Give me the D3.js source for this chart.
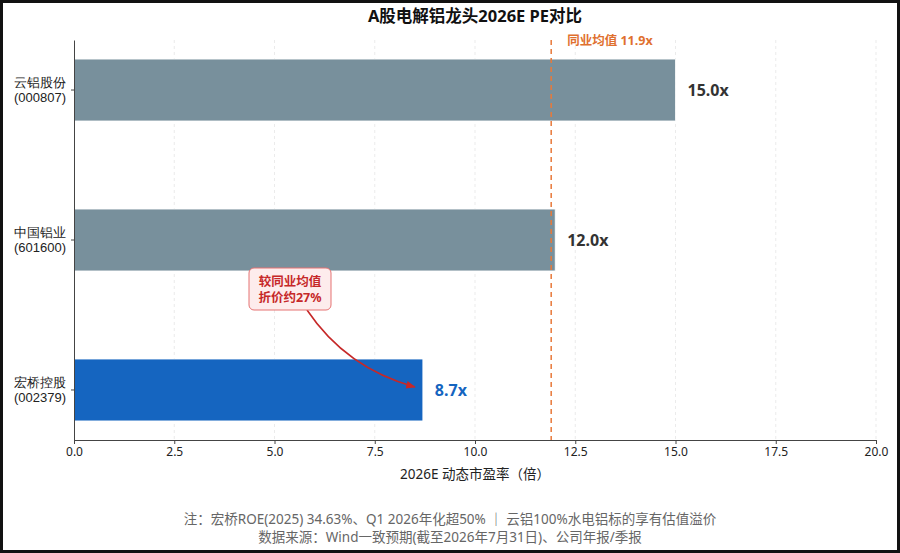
<!DOCTYPE html>
<html>
<head>
<meta charset="utf-8">
<script src="https://cdn.jsdelivr.net/npm/d3@7"></script>
<style>
  body { margin: 0; background: #fff; }
  svg { display: block; font-family: "Noto Sans", "Noto Sans CJK SC", sans-serif; }
</style>
</head>
<body>
<div id="chart"><svg></svg></div>
<script>
// data
var companies = ["云铝股份", "中国铝业", "宏桥控股"];
var codes = ["(000807)", "(601600)", "(002379)"];
var peValues = [15.0, 12.0, 8.7];
var barColors = ["#78909c", "#78909c", "#1565c0"];
var labelColors = ["#333333", "#333333", "#1565c0"];
var peerAvg = 11.9;
var xTicks = [0, 2.5, 5, 7.5, 10, 12.5, 15, 17.5, 20];

var width = 900, height = 553;
var margins = { left: 74, top: 40, right: 24, bottom: 113 };
var plotW = width - margins.left - margins.right;
var plotH = height - margins.top - margins.bottom;

var svg = d3.select("#chart").select("svg")
    .attr("width", width)
    .attr("height", height);

// frame round the picture
svg.append("rect")
    .attr("x", 1.5).attr("y", 1.5)
    .attr("width", width - 3).attr("height", height - 3)
    .attr("fill", "#fff")
    .attr("stroke", "#111")
    .attr("stroke-width", 3);

var xscale = d3.scaleLinear().domain([0, 20]).range([0, plotW]);
var yscale = d3.scaleBand().domain(companies).range([0, plotH])
    .paddingInner(0.587).paddingOuter(0.127);

var g = svg.append("g")
    .attr("transform", "translate(" + margins.left + "," + margins.top + ")");

// grid
g.append("g").selectAll("line")
    .data(xTicks.slice(1))
    .enter().append("line")
    .attr("x1", function(d) { return xscale(d); })
    .attr("x2", function(d) { return xscale(d); })
    .attr("y1", 0).attr("y2", plotH)
    .attr("stroke", "#e6e6e6")
    .attr("stroke-width", 0.8)
    .attr("stroke-dasharray", "3,3");

// bars
g.selectAll("rect.bar")
    .data(peValues)
    .enter().append("rect")
    .attr("class", "bar")
    .attr("x", 0)
    .attr("y", function(d, i) { return yscale(companies[i]); })
    .attr("width", function(d) { return xscale(d); })
    .attr("height", yscale.bandwidth())
    .attr("fill", function(d, i) { return barColors[i]; })
    .attr("stroke", "#ffffff")
    .attr("stroke-width", 0.8);

// value labels
g.selectAll("text.val")
    .data(peValues)
    .enter().append("text")
    .attr("class", "val")
    .attr("x", function(d) { return xscale(d) + 12; })
    .attr("y", function(d, i) { return yscale(companies[i]) + yscale.bandwidth() / 2; })
    .attr("dy", "0.35em")
    .attr("font-size", 16)
    .attr("font-weight", "bold")
    .attr("fill", function(d, i) { return labelColors[i]; })
    .text(function(d) { return d.toFixed(1) + "x"; });

// peer average line
g.append("line")
    .attr("x1", xscale(peerAvg)).attr("x2", xscale(peerAvg))
    .attr("y1", 0).attr("y2", plotH)
    .attr("stroke", "#e8793a")
    .attr("stroke-width", 1.5)
    .attr("stroke-dasharray", "5,4");
g.append("text")
    .attr("x", xscale(peerAvg) + 16)
    .attr("y", 5)
    .attr("font-size", 12.5)
    .attr("font-weight", "bold")
    .attr("fill", "#e0702e")
    .text("同业均值 " + peerAvg.toFixed(1) + "x");

// axes
var xaxis = d3.axisBottom(xscale).tickValues(xTicks)
    .tickFormat(d3.format(".1f")).tickSize(4).tickSizeOuter(0);
var xg = g.append("g")
    .attr("transform", "translate(0," + plotH + ")")
    .call(xaxis);
xg.select(".domain").attr("stroke", "#444");
xg.selectAll(".tick line").attr("stroke", "#444");
xg.selectAll(".tick text")
    .attr("font-size", 12)
    .attr("fill", "#222")
    .attr("font-family", "'Noto Sans', sans-serif");

var yaxis = d3.axisLeft(yscale).tickSize(3).tickSizeOuter(0).tickFormat("");
var yg = g.append("g").call(yaxis);
yg.select(".domain").attr("stroke", "#444");
yg.selectAll(".tick line").attr("stroke", "#444");
yg.selectAll(".tick").each(function(d, i) {
    var t = d3.select(this).append("text")
        .attr("x", -8)
        .attr("text-anchor", "end")
        .attr("font-size", 13)
        .attr("fill", "#222");
    t.append("tspan").attr("x", -8).attr("dy", "-0.25em").text(companies[i]);
    t.append("tspan").attr("x", -8).attr("dy", "1.2em").text(codes[i]);
});

// axis title
g.append("text")
    .attr("x", plotW / 2)
    .attr("y", plotH + 39)
    .attr("text-anchor", "middle")
    .attr("font-size", 13.5)
    .attr("fill", "#222")
    .text("2026E 动态市盈率（倍）");

// chart title
svg.append("text")
    .attr("x", margins.left + plotW / 2)
    .attr("y", 22)
    .attr("text-anchor", "middle")
    .attr("font-size", 16.5)
    .attr("font-weight", "bold")
    .attr("fill", "#111")
    .text("A股电解铝龙头2026E PE对比");

// annotation
var ann = g.append("g");
var boxX = 175, boxY = 228;
var arrowTo = [xscale(peValues[2]) - 8, yscale(companies[2]) + yscale.bandwidth() / 2 - 3];
var arrowFrom = [233, 270];
svg.append("defs").append("marker")
    .attr("id", "ah")
    .attr("viewBox", "0 0 10 10")
    .attr("refX", 9).attr("refY", 5)
    .attr("markerWidth", 6).attr("markerHeight", 6)
    .attr("orient", "auto")
    .append("path")
    .attr("d", "M0,1 L10,5 L0,9 z")
    .attr("fill", "#c62828");
ann.append("path")
    .attr("d", "M" + arrowFrom[0] + "," + arrowFrom[1] +
        " Q" + 272 + "," + 328 + " " + arrowTo[0] + "," + arrowTo[1])
    .attr("fill", "none")
    .attr("stroke", "#c62828")
    .attr("stroke-width", 1.6)
    .attr("marker-end", "url(#ah)");
ann.append("rect")
    .attr("x", boxX).attr("y", boxY)
    .attr("width", 82).attr("height", 42)
    .attr("rx", 5)
    .attr("fill", "#fdecec")
    .attr("stroke", "#e57373")
    .attr("stroke-width", 1);
ann.append("text")
    .attr("x", boxX + 41).attr("y", boxY + 18)
    .attr("text-anchor", "middle")
    .attr("font-size", 12.5)
    .attr("font-weight", "bold")
    .attr("fill", "#c62828")
    .text("较同业均值");
ann.append("text")
    .attr("x", boxX + 41).attr("y", boxY + 34)
    .attr("text-anchor", "middle")
    .attr("font-size", 12.5)
    .attr("font-weight", "bold")
    .attr("fill", "#c62828")
    .text("折价约27%");

// footnotes
svg.append("text")
    .attr("x", 450).attr("y", 524)
    .attr("text-anchor", "middle")
    .attr("font-size", 13.5)
    .attr("fill", "#666")
    .text("注：宏桥ROE(2025) 34.63%、Q1 2026年化超50% ｜ 云铝100%水电铝标的享有估值溢价");
svg.append("text")
    .attr("x", 450).attr("y", 542)
    .attr("text-anchor", "middle")
    .attr("font-size", 13.5)
    .attr("fill", "#666")
    .text("数据来源：Wind一致预期(截至2026年7月31日)、公司年报/季报");
</script>
</body>
</html>
